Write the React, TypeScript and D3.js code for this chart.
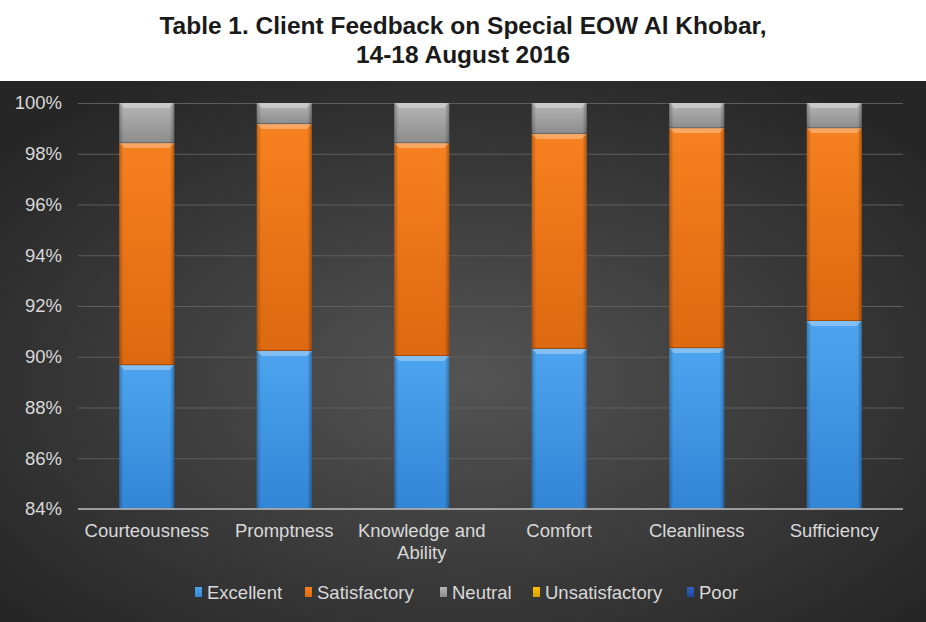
import { useEffect, useRef } from 'react';
import * as d3 from 'd3';

const categories = ['Courteousness', 'Promptness', 'Knowledge and Ability', 'Comfort', 'Cleanliness', 'Sufficiency'];
const seriesNames = ['Excellent', 'Satisfactory', 'Neutral', 'Unsatisfactory', 'Poor'];
const excellent = [0.8967, 0.9023, 0.9003, 0.9031, 0.9034, 0.9141];
const satisfactory = [0.0875, 0.0894, 0.0839, 0.0847, 0.0867, 0.0760];
const neutral = [0.0158, 0.0083, 0.0158, 0.0122, 0.0099, 0.0099];
const unsatisfactory = [0, 0, 0, 0, 0, 0];
const poor = [0, 0, 0, 0, 0, 0];
const yTicks = [0.84, 0.86, 0.88, 0.90, 0.92, 0.94, 0.96, 0.98, 1.0];

const colors = ['#4da4ee', '#f7811f', '#b5b5b5', '#ffc000', '#2f62c0'];
const darkColors = ['#3385d6', '#dc6810', '#8c8c8c', '#d9a000', '#1f4a99'];

const FONT = 'Liberation Sans, Arial, sans-serif';

const App = () => {
    const svgRef = useRef<SVGSVGElement>(null);

    useEffect(() => {
        if (!svgRef.current) return;
        const width = 926;
        const height = 622;
        const margin = { top: 103, right: 23, bottom: 113, left: 78 };
        const innerWidth = width - margin.left - margin.right;
        const innerHeight = height - margin.top - margin.bottom;

        const svg = d3.select(svgRef.current);
        svg.selectAll('*').remove();
        svg.attr('width', width).attr('height', height);

        const defs = svg.append('defs');
        const bg = defs.append('radialGradient')
            .attr('id', 'bg')
            .attr('cx', '50%').attr('cy', '55%').attr('r', '65%');
        bg.append('stop').attr('offset', '0%').attr('stop-color', '#545454');
        bg.append('stop').attr('offset', '100%').attr('stop-color', '#262626');

        colors.forEach((c, i) => {
            const g = defs.append('linearGradient')
                .attr('id', `grad${i}`)
                .attr('x1', 0).attr('y1', 0).attr('x2', 0).attr('y2', 1);
            g.append('stop').attr('offset', '0%').attr('stop-color', c);
            g.append('stop').attr('offset', '100%').attr('stop-color', darkColors[i]);
        });
        const side = defs.append('linearGradient')
            .attr('id', 'side')
            .attr('x1', 0).attr('y1', 0).attr('x2', 1).attr('y2', 0);
        side.append('stop').attr('offset', '0%').attr('stop-color', '#000').attr('stop-opacity', 0.25);
        side.append('stop').attr('offset', '8%').attr('stop-color', '#000').attr('stop-opacity', 0);
        side.append('stop').attr('offset', '92%').attr('stop-color', '#000').attr('stop-opacity', 0);
        side.append('stop').attr('offset', '100%').attr('stop-color', '#000').attr('stop-opacity', 0.3);

        // White title area and dark chart area
        svg.append('rect').attr('width', width).attr('height', height).attr('fill', '#ffffff');
        svg.append('rect').attr('y', 81).attr('width', width).attr('height', height - 81).attr('fill', 'url(#bg)');

        const title = svg.append('text')
            .attr('text-anchor', 'middle')
            .attr('font-family', FONT)
            .attr('font-weight', 'bold')
            .attr('font-size', 24.5)
            .attr('fill', '#1a1a1a');
        title.append('tspan').attr('x', width / 2).attr('y', 34).text('Table 1. Client Feedback on Special EOW Al Khobar,');
        title.append('tspan').attr('x', width / 2).attr('y', 63).text('14-18 August 2016');

        const g = svg.append('g').attr('transform', `translate(${margin.left},${margin.top})`);

        const x = d3.scaleBand().domain(categories).range([0, innerWidth]).paddingInner(0.6).paddingOuter(0.3);
        const y = d3.scaleLinear().domain([0.84, 1.0]).range([innerHeight, 0]);

        // Grid lines
        g.append('g')
            .call(d3.axisLeft(y).tickValues(yTicks.slice(1)).tickSize(-innerWidth).tickFormat(() => ''))
            .call(sel => sel.select('.domain').remove())
            .selectAll('line')
            .attr('stroke', '#5e5e5e');

        // Y tick labels
        g.append('g')
            .call(d3.axisLeft(y).tickValues(yTicks).tickSize(0).tickPadding(16).tickFormat(d3.format('.0%')))
            .call(sel => sel.select('.domain').remove())
            .selectAll('text')
            .attr('fill', '#d9d9d9')
            .attr('font-size', 18.5)
            .attr('font-family', FONT);

        const table = categories.map((c, i) => ({
            category: c,
            Excellent: excellent[i],
            Satisfactory: satisfactory[i],
            Neutral: neutral[i],
            Unsatisfactory: unsatisfactory[i],
            Poor: poor[i],
        }));
        const stacked = d3.stack<any>().keys(seriesNames)(table);

        stacked.forEach((layer, si) => {
            const lg = g.append('g');
            layer.forEach((d: any) => {
                const y0 = y(Math.max(d[0], 0.84));
                const y1 = y(Math.max(d[1], 0.84));
                const h = y0 - y1;
                if (h <= 0) return;
                const bx = x(d.data.category)!;
                const bw = x.bandwidth();
                lg.append('rect')
                    .attr('x', bx).attr('y', y1).attr('width', bw).attr('height', h)
                    .attr('fill', `url(#grad${si})`);
                lg.append('rect')
                    .attr('x', bx).attr('y', y1).attr('width', bw).attr('height', h)
                    .attr('fill', 'url(#side)');
                // bevel highlight on top edge
                const bev = Math.min(5, h / 2);
                lg.append('polygon')
                    .attr('points', `${bx},${y1} ${bx + bw},${y1} ${bx + bw - bev},${y1 + bev} ${bx + bev},${y1 + bev}`)
                    .attr('fill', '#ffffff').attr('opacity', 0.3);
                lg.append('line')
                    .attr('x1', bx).attr('x2', bx + bw).attr('y1', y0 - 0.5).attr('y2', y0 - 0.5)
                    .attr('stroke', '#000').attr('stroke-opacity', 0.25);
            });
        });

        // X axis baseline
        g.append('line')
            .attr('x1', 0).attr('x2', innerWidth)
            .attr('y1', innerHeight).attr('y2', innerHeight)
            .attr('stroke', '#bfbfbf').attr('stroke-width', 1.5);

        // Category labels
        const xl = g.append('g').attr('font-family', FONT).attr('font-size', 18.5).attr('fill', '#d9d9d9');
        categories.forEach(c => {
            const cx = x(c)! + x.bandwidth() / 2;
            const t = xl.append('text').attr('text-anchor', 'middle');
            if (c === 'Knowledge and Ability') {
                t.append('tspan').attr('x', cx).attr('y', innerHeight + 28).text('Knowledge and');
                t.append('tspan').attr('x', cx).attr('y', innerHeight + 50).text('Ability');
            } else {
                t.attr('x', cx).attr('y', innerHeight + 28).text(c);
            }
        });

        // Legend
        const legendX = [195, 305, 440, 533, 687];
        const legend = svg.append('g').attr('font-family', FONT).attr('font-size', 18.5);
        seriesNames.forEach((name, i) => {
            legend.append('rect')
                .attr('x', legendX[i]).attr('y', 587).attr('width', 7).attr('height', 10)
                .attr('fill', `url(#grad${i})`);
            legend.append('text')
                .attr('x', legendX[i] + 12).attr('y', 599)
                .attr('fill', '#d9d9d9')
                .text(name);
        });
    }, []);

    return (
        <div>
            <style>{'body{margin:0}'}</style>
            <svg ref={svgRef} style={{ display: 'block' }} role="img" aria-label="Client feedback stacked bar chart"></svg>
        </div>
    );
};

export default App;
